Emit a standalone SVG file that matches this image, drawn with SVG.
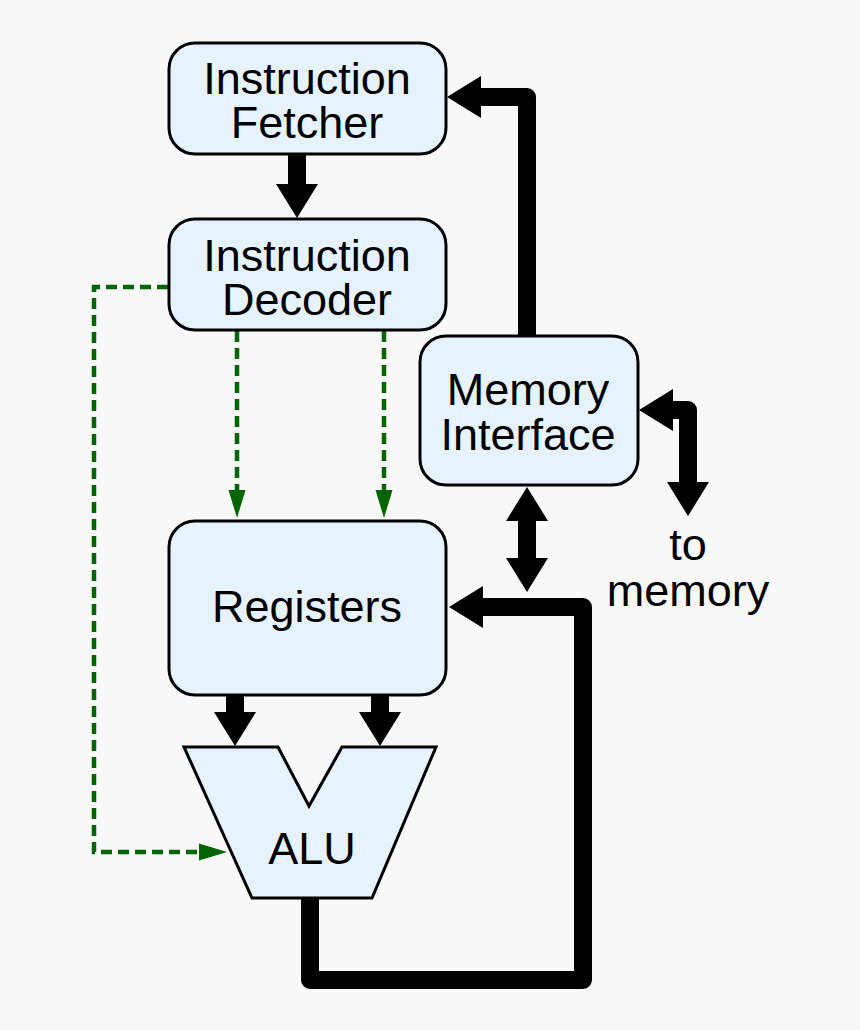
<svg xmlns="http://www.w3.org/2000/svg" width="860" height="1030" viewBox="0 0 860 1030">
<style>
.box{fill:#e6f2fe;stroke:#000;stroke-width:3}
.lbl{font-family:"Liberation Sans",Arial,sans-serif;font-size:45px;fill:#000;text-anchor:middle}
.bus{fill:none;stroke:#000;stroke-width:18;stroke-linejoin:round}
.ctl{fill:none;stroke:#006400;stroke-width:4.5;stroke-dasharray:11,6}
</style>
<defs>
<marker id="bh" markerUnits="userSpaceOnUse" markerWidth="34" markerHeight="42" viewBox="0 0 34 42" refX="0" refY="21" orient="auto-start-reverse" overflow="visible">
<path d="M0,0 L34,21 L0,42 z" fill="#000"/>
</marker>
<marker id="gh" markerUnits="userSpaceOnUse" markerWidth="28" markerHeight="17" viewBox="0 0 28 17" refX="0" refY="8.5" orient="auto" overflow="visible">
<path d="M0,0 L28,8.5 L0,17 z" fill="#006400"/>
</marker>
</defs>
<rect width="860" height="1030" fill="#f8f8f8"/>
<g id="connectors">
<path class="bus" d="M297 154 V184" marker-end="url(#bh)"/>
<path class="bus" d="M527 336 V97 H481" marker-end="url(#bh)"/>
<path class="bus" d="M673 410 H688 V482" marker-start="url(#bh)" marker-end="url(#bh)"/>
<path class="bus" d="M527 521 V558" marker-start="url(#bh)" marker-end="url(#bh)"/>
<path class="bus" d="M310 898 V980 H583 V607 H483" marker-end="url(#bh)"/>
<path class="bus" d="M235 696 V712" marker-end="url(#bh)"/>
<path class="bus" d="M380 696 V712" marker-end="url(#bh)"/>
<path class="ctl" d="M168 287 H94 V852 H199" marker-end="url(#gh)"/>
<path class="ctl" d="M237 331 V490" marker-end="url(#gh)"/>
<path class="ctl" d="M384 331 V490" marker-end="url(#gh)"/>
</g>
<g id="fetcher">
<rect class="box" x="169" y="43" width="277" height="111" rx="26"/>
<text class="lbl" x="307" y="94">Instruction<tspan x="307" dy="44">Fetcher</tspan></text>
</g>
<g id="decoder">
<rect class="box" x="169" y="219" width="277" height="111" rx="26"/>
<text class="lbl" x="307" y="271">Instruction<tspan x="307" dy="44">Decoder</tspan></text>
</g>
<g id="memory-interface">
<rect class="box" x="420" y="336" width="218" height="149" rx="26"/>
<text class="lbl" x="528" y="405">Memory<tspan x="528" dy="45">Interface</tspan></text>
</g>
<g id="registers">
<rect class="box" x="169" y="521" width="277" height="174" rx="26"/>
<text class="lbl" x="307" y="622">Registers</text>
</g>
<g id="alu">
<path class="box" d="M184 747 H278 L309 806 L342 747 H436 L372 898 H252 Z" stroke-linejoin="miter"/>
<text class="lbl" x="312" y="864">ALU</text>
</g>
<g id="to-memory">
<text class="lbl" x="688" y="560">to<tspan x="688" dy="46">memory</tspan></text>
</g>
</svg>
